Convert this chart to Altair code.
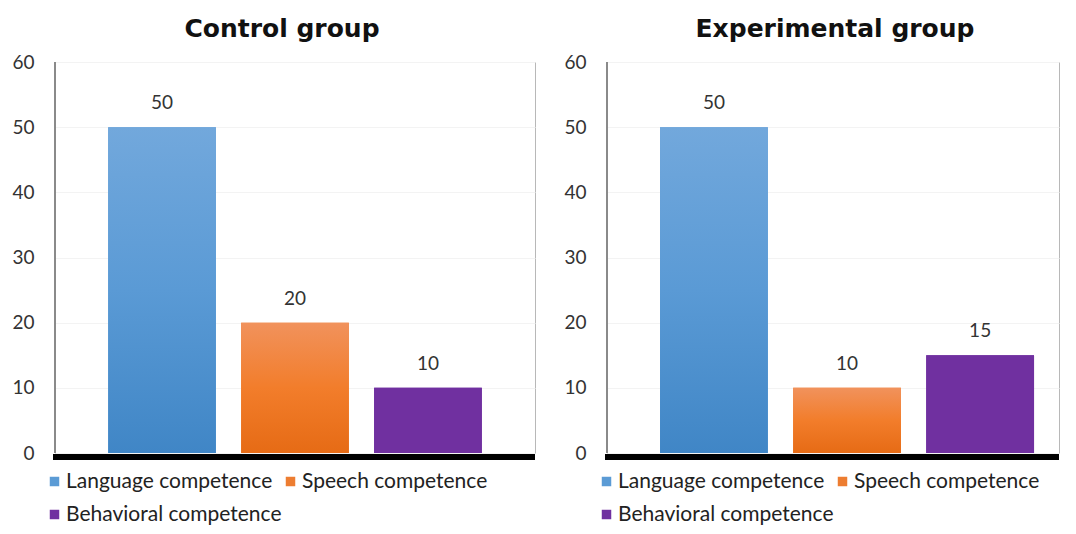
import altair as alt
import pandas as pd

categories = ["Language competence", "Speech competence", "Behavioral competence"]
control_values = [50, 20, 10]
experimental_values = [50, 10, 15]
panel_titles = ["Control group", "Experimental group"]
y_ticks = [0, 10, 20, 30, 40, 50, 60]

flat_colors = ["#5b9bd5", "#ed7d31", "#7030a0"]
gradients = {
    "Language competence": ["#72a8dc", "#5a9ad5", "#4086c6"],
    "Speech competence": ["#f1925c", "#f27d2b", "#e66b15"],
    "Behavioral competence": ["#7030a0", "#7030a0", "#7030a0"],
}

FONT = "Lato"
H = 391


def grad(cols):
    return alt.LinearGradient(
        gradient="linear",
        stops=[alt.GradientStop(offset=0, color=cols[0]),
               alt.GradientStop(offset=0.5, color=cols[1]),
               alt.GradientStop(offset=1, color=cols[2])],
        x1=0, x2=0, y1=0, y2=1,
    )


def panel(values, title, width, pad_outer, align, title_dx):
    df = pd.DataFrame({"cat": categories, "val": values})
    xenc = alt.X("cat:N", sort=categories, axis=None,
                 scale=alt.Scale(paddingInner=0.19, paddingOuter=pad_outer, align=align))
    yenc = alt.Y("val:Q", scale=alt.Scale(domain=[0, 60]),
                 axis=alt.Axis(values=y_ticks, title=None, domain=False, ticks=False,
                               labelPadding=21, labelFontSize=19, labelFont=FONT,
                               labelColor="#333333", grid=True, gridColor="#f3f3f3"))
    base = alt.Chart(df)
    bars = base.mark_bar().encode(
        x=xenc, y=yenc,
        color=alt.Color("cat:N", sort=categories,
                        scale=alt.Scale(domain=categories, range=flat_colors),
                        legend=alt.Legend(title=None, orient="none", legendX=-11, legendY=409,
                                          direction="horizontal", columns=2, gridAlign="none",
                                          symbolType="square", symbolSize=90, symbolStrokeWidth=0,
                                          labelFontSize=21, labelFont=FONT, labelColor="#222222",
                                          labelOffset=1, columnPadding=-2, rowPadding=11,
                                          labelLimit=400)),
    )
    layers = [bars]
    for c in categories:
        layers.append(
            base.transform_filter(alt.datum.cat == c)
            .mark_bar(color=grad(gradients[c]))
            .encode(x=xenc, y="val:Q")
        )
    text = base.mark_text(dy=-24, fontSize=19, font=FONT, color="#333333").encode(
        x=xenc, y="val:Q", text="val:Q")
    floor = base.mark_rule(color="#000000", strokeWidth=6).encode(
        x=alt.value(-2), x2=alt.value(width), y=alt.value(H + 4))
    left = base.mark_rule(color="#8a8a8a", strokeWidth=2).encode(
        x=alt.value(0), y=alt.value(0), y2=alt.value(H))
    layers += [text, left, floor]
    return alt.layer(*layers).properties(
        width=width, height=H,
        title=alt.TitleParams(title, fontSize=25, font="DejaVu Sans", fontWeight="bold",
                              color="#111111", offset=11, dx=title_dx),
    )


left_chart = panel(control_values, panel_titles[0], 480, 0.4, 0.5, -13)
right_chart = panel(experimental_values, panel_titles[1], 452, 0.293, 0.68, 2)

chart = alt.hconcat(left_chart, right_chart, spacing=24).resolve_scale(
    color="independent"
).resolve_legend(color="independent").properties(
    padding={"left": 3, "top": 8, "right": 0, "bottom": 0}
).configure_view(
    stroke="#b8b8b8", strokeWidth=1
).configure_title(anchor="middle").configure_legend(labelFont=FONT)

chart.save("out.html", embed_options={"renderer": "svg", "actions": False})
